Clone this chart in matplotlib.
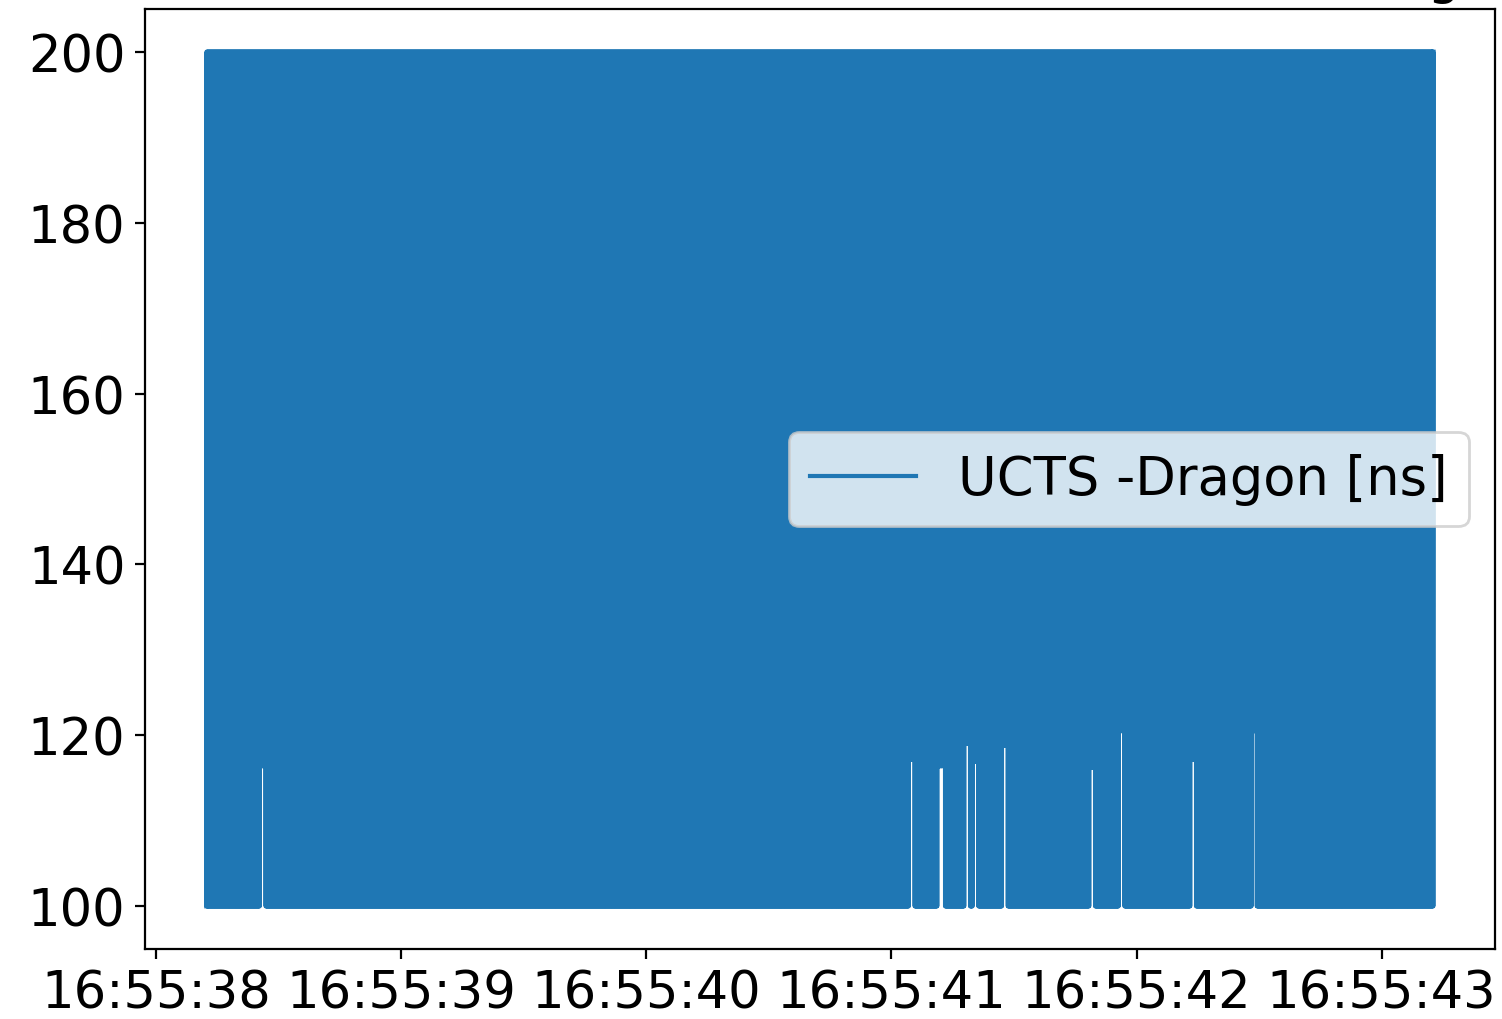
import numpy as np
import matplotlib
matplotlib.use("Agg")
import matplotlib.pyplot as plt
import matplotlib.dates as mdates

# run start (the seconds below are offsets from this)
base = np.datetime64("2019-11-20T16:55:38")

# UCTS - Dragon difference: readings swing between the two levels
t_first = 0.205      # s after base
t_last = 5.213
dt = 0.001
y_low = 100
y_high = 200

# short stretches where the low reading stays higher (centre time, low level)
gap_times = [0.435, 3.083, 3.199, 3.208, 3.309, 3.343, 3.463, 3.819, 3.939, 4.231, 4.480]
gap_lows = [116.4, 117.2, 116.4, 118.4, 119.0, 116.9, 118.8, 116.2, 120.5, 117.2, 120.5]
gap_width = 0.0205

sec = np.arange(t_first, t_last, dt)
vals = np.where(np.arange(sec.size) % 2 == 0, y_low, y_high).astype(float)
for g, h in zip(gap_times, gap_lows):
    sel = (np.abs(sec - g) < gap_width / 2) & (vals == y_low)
    vals[sel] = h
times = base + (sec * 1e6).astype("timedelta64[us]")

fig = plt.figure(figsize=(7.51, 5.10), dpi=200)
ax = fig.add_axes([0.0965, 0.0686, 0.8988, 0.9216])
ax.plot(times, vals, label="UCTS -Dragon [ns]")
ax.set_title("Run 1234 time difference, UCTS - DRAGON timing", fontsize=18.5)

ax.xaxis.set_major_locator(mdates.SecondLocator())
ax.xaxis.set_major_formatter(mdates.DateFormatter("%H:%M:%S"))
ax.set_yticks([100, 120, 140, 160, 180, 200])
ax.tick_params(labelsize=18.4)
ax.legend(loc="center right", fontsize=19)

fig.savefig("out.png", dpi=200)
